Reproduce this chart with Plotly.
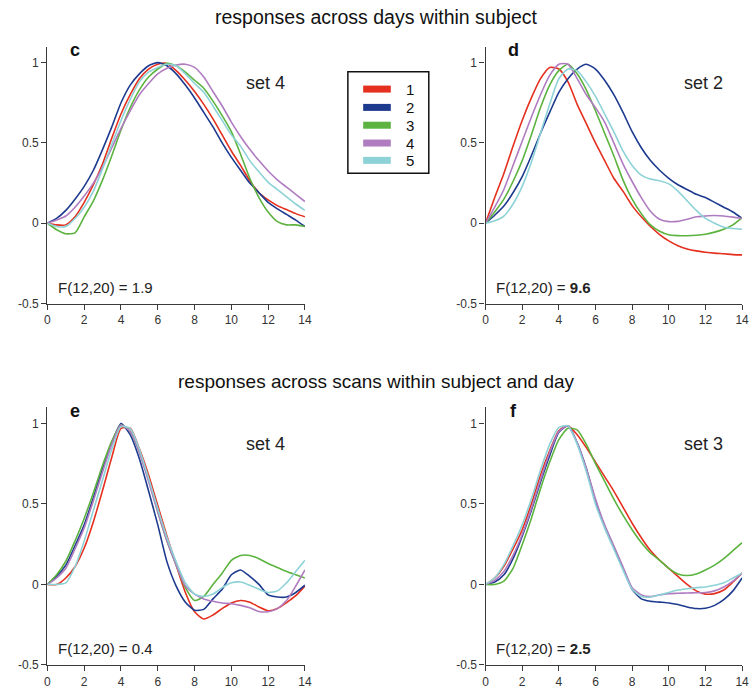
import plotly.graph_objects as go

# ---------------- data ----------------
t = [i * 0.5 for i in range(29)]  # seconds 0..14
series_names = ["1", "2", "3", "4", "5"]
series_colors = ["#e5301f", "#1d3a8f", "#5cb33f", "#b07cc0", "#8dd2d6"]

# panel c : across days, set 4
c_1 = [0, -0.01, -0.01, 0.04, 0.13, 0.24, 0.37, 0.53, 0.68, 0.80, 0.90, 0.96, 0.99, 0.995, 0.95, 0.89, 0.82, 0.74, 0.65, 0.55, 0.45, 0.36, 0.265, 0.19, 0.145, 0.11, 0.085, 0.06, 0.04]
c_2 = [0, 0.03, 0.08, 0.15, 0.23, 0.33, 0.46, 0.60, 0.75, 0.86, 0.93, 0.98, 1.0, 0.98, 0.93, 0.86, 0.78, 0.69, 0.60, 0.50, 0.41, 0.33, 0.25, 0.19, 0.13, 0.09, 0.055, 0.02, -0.02]
c_3 = [0, -0.04, -0.065, -0.06, 0.04, 0.14, 0.27, 0.42, 0.58, 0.72, 0.83, 0.91, 0.96, 0.995, 0.98, 0.94, 0.89, 0.84, 0.76, 0.67, 0.57, 0.43, 0.28, 0.16, 0.07, 0.01, -0.01, -0.01, -0.02]
c_4 = [0, 0.02, 0.045, 0.10, 0.17, 0.25, 0.35, 0.47, 0.59, 0.70, 0.80, 0.87, 0.93, 0.965, 0.985, 0.99, 0.97, 0.91, 0.82, 0.73, 0.63, 0.54, 0.46, 0.39, 0.325, 0.27, 0.225, 0.18, 0.135]
c_5 = [0, -0.02, -0.02, 0.03, 0.10, 0.20, 0.34, 0.49, 0.64, 0.77, 0.88, 0.94, 0.97, 0.99, 0.98, 0.93, 0.87, 0.815, 0.73, 0.64, 0.55, 0.48, 0.39, 0.32, 0.255, 0.21, 0.165, 0.12, 0.08]

# panel d : across days, set 2
d_1 = [0, 0.16, 0.31, 0.48, 0.64, 0.78, 0.90, 0.97, 0.96, 0.88, 0.74, 0.62, 0.50, 0.39, 0.28, 0.20, 0.11, 0.04, -0.02, -0.07, -0.11, -0.14, -0.16, -0.172, -0.18, -0.186, -0.19, -0.195, -0.197]
d_2 = [0, 0.05, 0.107, 0.19, 0.29, 0.42, 0.56, 0.69, 0.815, 0.90, 0.96, 0.99, 0.96, 0.89, 0.80, 0.69, 0.57, 0.47, 0.39, 0.33, 0.28, 0.24, 0.21, 0.18, 0.16, 0.13, 0.10, 0.07, 0.03]
d_3 = [0, 0.07, 0.15, 0.26, 0.39, 0.55, 0.72, 0.86, 0.95, 0.99, 0.93, 0.83, 0.70, 0.56, 0.42, 0.27, 0.15, 0.06, -0.01, -0.05, -0.072, -0.077, -0.078, -0.075, -0.068, -0.055, -0.037, -0.01, 0.035]
d_4 = [0, 0.10, 0.21, 0.36, 0.51, 0.66, 0.80, 0.92, 0.99, 0.99, 0.90, 0.80, 0.72, 0.63, 0.50, 0.37, 0.26, 0.16, 0.075, 0.025, 0.01, 0.012, 0.025, 0.04, 0.045, 0.048, 0.045, 0.038, 0.03]
d_5 = [0, 0.015, 0.045, 0.12, 0.23, 0.38, 0.56, 0.74, 0.90, 0.96, 0.95, 0.88, 0.79, 0.68, 0.57, 0.45, 0.36, 0.30, 0.275, 0.265, 0.245, 0.20, 0.14, 0.08, 0.03, 0.0, -0.025, -0.033, -0.037]

# panel e : across scans, set 4
e_1 = [0, 0.0, 0.04, 0.11, 0.226, 0.39, 0.585, 0.79, 0.97, 0.97, 0.842, 0.68, 0.49, 0.30, 0.12, -0.05, -0.17, -0.215, -0.19, -0.15, -0.115, -0.10, -0.11, -0.14, -0.164, -0.15, -0.113, -0.07, -0.01]
e_2 = [0, 0.05, 0.12, 0.24, 0.37, 0.54, 0.72, 0.88, 1.0, 0.93, 0.78, 0.58, 0.37, 0.14, -0.01, -0.11, -0.16, -0.155, -0.09, -0.03, 0.06, 0.09, 0.05, 0.0, -0.065, -0.078, -0.078, -0.05, -0.005]
e_3 = [0, 0.06, 0.144, 0.27, 0.41, 0.57, 0.74, 0.89, 0.99, 0.95, 0.82, 0.65, 0.45, 0.27, 0.12, -0.02, -0.10, -0.075, 0.0, 0.07, 0.15, 0.18, 0.18, 0.16, 0.13, 0.105, 0.08, 0.06, 0.04]
e_4 = [0, 0.04, 0.10, 0.22, 0.35, 0.52, 0.70, 0.87, 0.99, 0.95, 0.82, 0.64, 0.45, 0.27, 0.12, -0.01, -0.06, -0.09, -0.105, -0.115, -0.12, -0.13, -0.145, -0.168, -0.17, -0.15, -0.10, -0.01, 0.09]
e_5 = [0, 0.0, 0.01, 0.11, 0.27, 0.46, 0.65, 0.84, 0.98, 0.97, 0.84, 0.66, 0.47, 0.29, 0.14, 0.01, -0.06, -0.075, -0.06, -0.02, 0.01, 0.015, -0.005, -0.03, -0.05, -0.04, 0.01, 0.08, 0.15]

# panel f : across scans, set 3
f_1 = [0, 0.04, 0.113, 0.22, 0.34, 0.50, 0.68, 0.83, 0.955, 0.985, 0.93, 0.85, 0.76, 0.67, 0.58, 0.48, 0.38, 0.29, 0.21, 0.15, 0.10, 0.05, 0.0, -0.04, -0.06, -0.057, -0.035, 0.015, 0.07]
f_2 = [0, 0.015, 0.06, 0.16, 0.30, 0.46, 0.636, 0.80, 0.945, 0.985, 0.88, 0.72, 0.52, 0.36, 0.23, 0.10, -0.03, -0.09, -0.105, -0.11, -0.115, -0.125, -0.14, -0.15, -0.148, -0.13, -0.095, -0.04, 0.04]
f_3 = [0, 0.0, 0.02, 0.10, 0.246, 0.41, 0.595, 0.76, 0.90, 0.97, 0.96, 0.87, 0.75, 0.64, 0.53, 0.43, 0.34, 0.26, 0.195, 0.15, 0.10, 0.065, 0.055, 0.065, 0.09, 0.12, 0.16, 0.21, 0.26]
f_4 = [0, 0.025, 0.08, 0.18, 0.31, 0.47, 0.65, 0.82, 0.95, 0.985, 0.88, 0.72, 0.53, 0.37, 0.24, 0.11, -0.02, -0.065, -0.076, -0.065, -0.057, -0.055, -0.053, -0.052, -0.05, -0.04, -0.016, 0.02, 0.07]
f_5 = [0, 0.04, 0.123, 0.24, 0.37, 0.53, 0.71, 0.87, 0.975, 0.985, 0.87, 0.70, 0.50, 0.35, 0.22, 0.09, -0.03, -0.075, -0.078, -0.065, -0.05, -0.035, -0.027, -0.02, -0.016, -0.005, 0.01, 0.04, 0.07]

panels = [
    dict(series=[c_1, c_2, c_3, c_4, c_5], letter="c", set_label="set 4", fval="1.9", fbold=False),
    dict(series=[d_1, d_2, d_3, d_4, d_5], letter="d", set_label="set 2", fval="9.6", fbold=True),
    dict(series=[e_1, e_2, e_3, e_4, e_5], letter="e", set_label="set 4", fval="0.4", fbold=False),
    dict(series=[f_1, f_2, f_3, f_4, f_5], letter="f", set_label="set 3", fval="2.5", fbold=True),
]
titles = ["responses across days within subject", "responses across scans within subject and day"]
x_ticks = [0, 2, 4, 6, 8, 10, 12, 14]
y_ticks = [-0.5, 0, 0.5, 1]
y_ticktext = ["-0.5", "0", "0.5", "1"]

# ---------------- layout helpers ----------------
W, H = 756, 693
FONT = "Liberation Sans, Arial, Helvetica, sans-serif"


def px(xp):
    return xp / W


def py(yp):
    return 1 - yp / H


# panel boxes in pixels: (left, right, top(y=1.1), bottom(y=-0.5))
boxes = [
    (45, 306, 47, 306.7),
    (489, 749, 47, 306.7),
    (45, 306, 411.5, 671.7),
    (489, 749, 411.5, 671.7),
]

fig = go.Figure()
layout = dict(
    width=W, height=H,
    margin=dict(l=0, r=0, t=0, b=0),
    paper_bgcolor="white", plot_bgcolor="white",
    showlegend=False,
    font=dict(family=FONT, color="#222"),
)

annotations = []
shapes = []

for i, (p, box) in enumerate(zip(panels, boxes)):
    n = i + 1
    xa = "x" if n == 1 else f"x{n}"
    ya = "y" if n == 1 else f"y{n}"
    for vals, name, col in zip(p["series"], series_names, series_colors):
        fig.add_trace(go.Scatter(
            x=t, y=vals, mode="lines", name=name,
            line=dict(color=col, width=1.6, shape="spline", smoothing=0.6),
            xaxis=xa, yaxis=ya, hoverinfo="skip"))
    l, r, top, bot = box
    axis_common = dict(showline=True, linecolor="#3a3a3a", linewidth=1.4,
                       ticks="outside", ticklen=5, tickwidth=1.2, tickcolor="#3a3a3a",
                       showgrid=False, zeroline=False,
                       tickfont=dict(family=FONT, size=12, color="#333"))
    layout["xaxis" if n == 1 else f"xaxis{n}"] = dict(
        domain=[px(l), px(r)], range=[0, 14], anchor=ya,
        tickvals=x_ticks, **axis_common)
    layout["yaxis" if n == 1 else f"yaxis{n}"] = dict(
        domain=[py(bot), py(top)], range=[-0.5, 1.1], anchor=xa,
        tickvals=y_ticks, ticktext=y_ticktext, **axis_common)

    # panel letter
    annotations.append(dict(text=f"<b>{p['letter']}</b>", x=px(l + 28), y=py(top + 4),
                            xref="paper", yref="paper", xanchor="center", yanchor="middle",
                            showarrow=False, font=dict(family=FONT, size=18, color="#111")))
    # set label
    annotations.append(dict(text=p["set_label"], x=px(l + 221), y=py(top + 37),
                            xref="paper", yref="paper", xanchor="center", yanchor="middle",
                            showarrow=False, font=dict(family=FONT, size=18, color="#222")))
    # F statistic
    val = f"<b>{p['fval']}</b>" if p["fbold"] else p["fval"]
    annotations.append(dict(text=f"F(12,20) = {val}", x=px(l + 9), y=py(bot - 16.5),
                            xref="paper", yref="paper", xanchor="left", yanchor="middle",
                            showarrow=False, font=dict(family=FONT, size=15, color="#222")))

# row titles
annotations.append(dict(text=titles[0], x=px(378), y=py(17), xref="paper", yref="paper",
                        xanchor="center", yanchor="middle", showarrow=False,
                        font=dict(family=FONT, size=19.5, color="#111")))
annotations.append(dict(text=titles[1], x=px(378), y=py(385), xref="paper", yref="paper",
                        xanchor="center", yanchor="middle", showarrow=False,
                        font=dict(family=FONT, size=19, color="#111")))

# legend box
shapes.append(dict(type="rect", xref="paper", yref="paper",
                   x0=px(349.5), x1=px(431.5), y0=py(175), y1=py(72.5),
                   line=dict(color="#111", width=1.5), fillcolor="rgba(0,0,0,0)"))
row_y = [90, 108.5, 126.5, 144.5, 162]
for name, col, ry in zip(series_names, series_colors, row_y):
    shapes.append(dict(type="line", xref="paper", yref="paper",
                       x0=px(365), x1=px(393), y0=py(ry), y1=py(ry),
                       line=dict(color=col, width=7)))
    annotations.append(dict(text=name, x=px(412), y=py(ry), xref="paper", yref="paper",
                            xanchor="center", yanchor="middle", showarrow=False,
                            font=dict(family=FONT, size=15, color="#111")))

layout["annotations"] = annotations
layout["shapes"] = shapes
fig.update_layout(**layout)
fig.write_html("out.html")
